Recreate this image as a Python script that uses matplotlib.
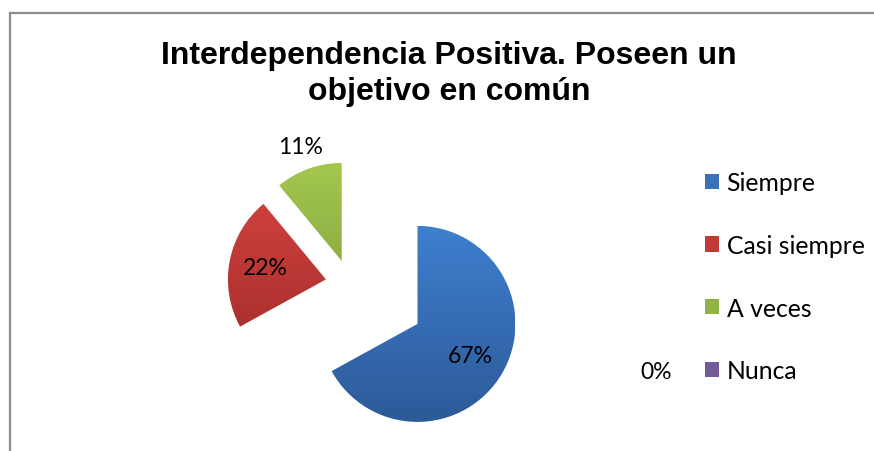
import numpy as np
import matplotlib
matplotlib.use("Agg")
import matplotlib.pyplot as plt
from matplotlib.patches import Patch
from matplotlib.lines import Line2D
from matplotlib.colors import LinearSegmentedColormap

# ---- data ----
categories = ["Siempre", "Casi siempre", "A veces", "Nunca"]
values = [67, 22, 11, 0]
title = "Interdependencia Positiva. Poseen un\nobjetivo en común"

# ---- style ----
top_colors = ["#3E7FCF", "#D3433F", "#A3C74E", "#8466A8"]
bot_colors = ["#2D5A98", "#9E2A28", "#77963A", "#5E4882"]
mid_colors = ["#3A73BA", "#C03B38", "#90B246", "#735A96"]
explode_frac = [0.80, 0.25, 0.25, 0.25]
text_font = ["Lato", "DejaVu Sans"]

W, H = 874, 452
fig = plt.figure(figsize=(W / 100, H / 100), dpi=100)
fig.patch.set_facecolor("white")
ax = fig.add_axes([0, 0, 1, 1])

R = 98
center = (350, H - 285)

wedges, texts, autotexts = ax.pie(
    values, explode=[e * R for e in explode_frac], center=center, radius=R,
    startangle=90, counterclock=False,
    colors=mid_colors, autopct=lambda p: f"{p:.0f}%",
    pctdistance=0.63, labeldistance=None,
    wedgeprops=dict(linewidth=0),
    textprops=dict(fontsize=16.5, family=text_font, color="black"),
)

# gradient fill on each wedge
for w, tc, bc in zip(wedges, top_colors, bot_colors):
    if w.theta2 - w.theta1 <= 0:
        continue
    cx, cy = w.center
    cmap = LinearSegmentedColormap.from_list("g", [bc, tc])
    grad = np.linspace(0, 1, 256).reshape(-1, 1)
    im = ax.imshow(grad, cmap=cmap, origin="lower", aspect="auto",
                   extent=(cx - R, cx + R, cy - R, cy + R), zorder=w.get_zorder())
    im.set_clip_path(w)
    w.set_facecolor("none")
ax.set_xlim(0, W)
ax.set_ylim(0, H)
ax.set_aspect("equal")
ax.axis("off")

# green label sits outside the slice
t = autotexts[2]
w = wedges[2]
ang = np.deg2rad((w.theta1 + w.theta2) / 2)
t.set_position((w.center[0] + 1.24 * R * np.cos(ang), w.center[1] + 1.24 * R * np.sin(ang)))

# zero label placed beside legend entry
autotexts[3].set_position((656, H - 373))

fig.text(0.514, 1 - 74 / H, title, ha="center", va="center",
         fontsize=23, fontweight="bold", family="Liberation Sans", linespacing=1.22)

handles = [Patch(facecolor=c, edgecolor="none") for c in mid_colors]
leg = fig.legend(handles, categories, loc="upper left",
                 bbox_to_anchor=(705 / W, 1 - 172 / H), frameon=False,
                 prop=dict(family=text_font, size=17.8),
                 handlelength=0.57, handleheight=0.57, handletextpad=0.3,
                 labelspacing=1.61, borderaxespad=0, borderpad=0)

# chart border (top and left)
fig.add_artist(Line2D([10 / W, 1], [1 - 14 / H, 1 - 14 / H], color="#8C8C8C", lw=1.6,
                      transform=fig.transFigure))
fig.add_artist(Line2D([10 / W, 10 / W], [0, 1 - 14 / H], color="#8C8C8C", lw=1.6,
                      transform=fig.transFigure))

fig.savefig("out.png", dpi=100, facecolor="white")
